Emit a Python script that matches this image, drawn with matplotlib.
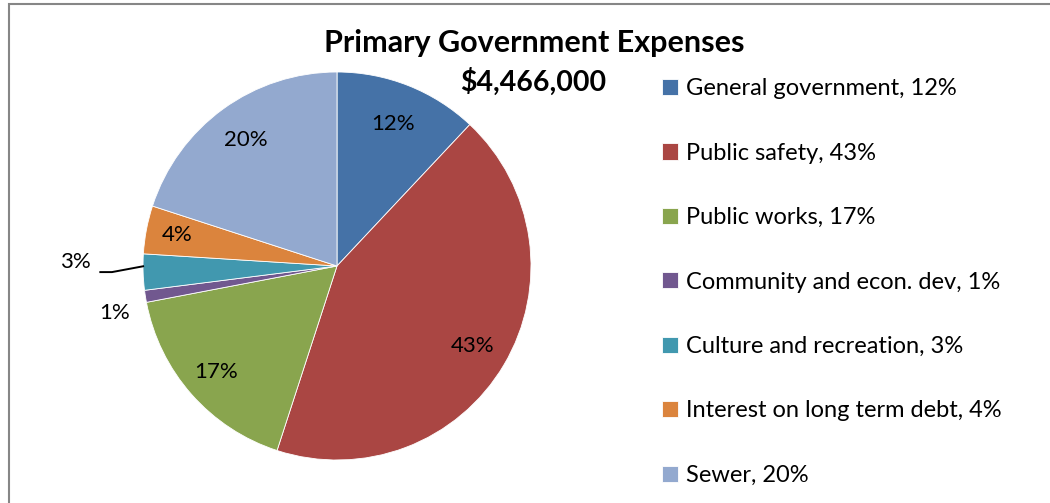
import numpy as np
import matplotlib.pyplot as plt
from matplotlib.patches import Rectangle

categorias = ["General government", "Public safety", "Public works",
              "Community and econ. dev", "Culture and recreation",
              "Interest on long term debt", "Sewer"]
porcentajes = [12, 43, 17, 1, 3, 4, 20]
colores = ["#4572A7", "#AA4643", "#89A54E", "#71588F", "#4198AF", "#DB843D", "#93A9CF"]
titulo = "Primary Government Expenses"
total = "$4,466,000"

plt.rcParams['font.family'] = ['Lato', 'DejaVu Sans']

W, H = 1050, 503
fig = plt.figure(figsize=(W / 100, H / 100), dpi=100)

# pie centro (337, 266) radio 194 px
cx, cy, r = 337, 266, 194
ax = fig.add_axes([(cx - r) / W, (H - cy - r) / H, 2 * r / W, 2 * r / H])
wedges, _ = ax.pie(porcentajes, colors=colores, startangle=90, counterclock=False,
                   radius=1, wedgeprops=dict(edgecolor="white", linewidth=0.6))
ax.set_xlim(-1, 1)
ax.set_ylim(-1, 1)
ax.set_aspect("equal")
ax.axis("off")

# etiquetas
dist = [0.79, 0.81, 0.83, 1.16, 1.35, 0.84, 0.80]
for i, w in enumerate(wedges):
    ang = np.deg2rad((w.theta1 + w.theta2) / 2)
    x, y = dist[i] * np.cos(ang), dist[i] * np.sin(ang)
    txt = f"{porcentajes[i]}%"
    if i == 3:
        ax.text(x, y - 0.06, txt, ha="center", va="center", fontsize=16, clip_on=False)
    elif i == 4:
        ex, ey = np.cos(ang), np.sin(ang) + 0.03
        ax.plot([-1.22, -1.16, ex], [ey - 0.03, ey - 0.03, ey], color="black",
                linewidth=1.4, clip_on=False)
        ax.text(-1.35, ey + 0.02, txt, ha="center", va="center", fontsize=16, clip_on=False)
    else:
        ax.text(x, y, txt, ha="center", va="center", fontsize=16)

fig.text(534 / W, 1 - 43 / H, titulo, ha="center", va="center",
         fontsize=22, fontweight="bold")
fig.text(533 / W, 1 - 82 / H, total, ha="center", va="center",
         fontsize=20.5, fontweight="bold")

etiquetas = [f"{c}, {p}%" for c, p in zip(categorias, porcentajes)]
fig.legend(wedges, etiquetas, loc="upper left", bbox_to_anchor=(641 / W, 1 - 57 / H),
           frameon=False, fontsize=17, labelspacing=1.84, handlelength=0.68,
           handleheight=0.68, handletextpad=0.34)

fig.patches.append(Rectangle((9 / W, -0.1), 1.2, 1.1 - 4 / H, transform=fig.transFigure,
                             fill=False, edgecolor="#868686", linewidth=1.5))

fig.savefig("out.png", dpi=100)
